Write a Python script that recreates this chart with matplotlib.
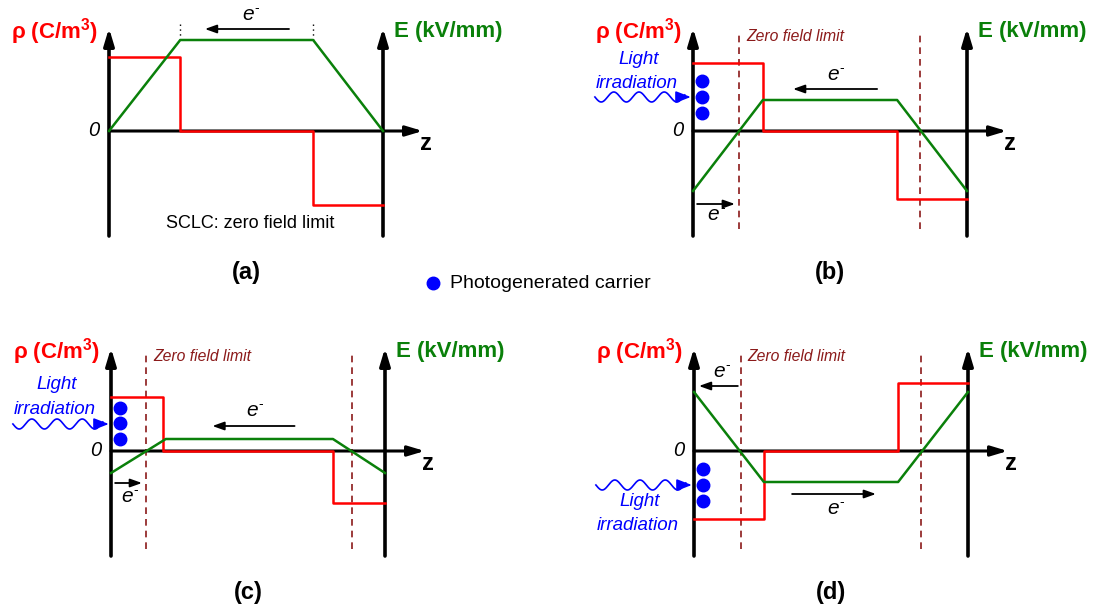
import numpy as np
import matplotlib
matplotlib.use("Agg")
import matplotlib.pyplot as plt

plt.rcParams['font.family'] = ['Liberation Sans', 'DejaVu Sans']
plt.rcParams['mathtext.fontset'] = 'custom'
plt.rcParams['mathtext.rm'] = 'Liberation Sans'
plt.rcParams['mathtext.it'] = 'Liberation Sans:italic'
plt.rcParams['mathtext.bf'] = 'Liberation Sans:bold'

RED = '#ff0000'
GREEN = '#0a800a'
BROWN = '#8b1a1a'
BLUE = '#0000ff'

# ---------------- data (z normalised 0..1 between the two vertical axes) ----
panel_names = ['(a)', '(b)', '(c)', '(d)']

a_rho_z = [0, 0.26, 0.26, 0.745, 0.745, 1]
a_rho = [0.74, 0.74, 0, 0, -0.74, -0.74]
a_E_z = [0, 0.26, 0.745, 1]
a_E = [0, 0.91, 0.91, 0]

b_rho_z = [0, 0.255, 0.255, 0.745, 0.745, 1]
b_rho = [0.68, 0.68, 0, 0, -0.68, -0.68]
b_E_z = [0, 0.255, 0.745, 1]
b_E = [-0.60, 0.31, 0.31, -0.60]
b_zero_z = [0.168, 0.828]
b_dots = [0.50, 0.34, 0.18]

c_rho_z = [0, 0.19, 0.19, 0.81, 0.81, 1]
c_rho = [0.54, 0.54, 0, 0, -0.52, -0.52]
c_E_z = [0, 0.20, 0.81, 1]
c_E = [-0.22, 0.12, 0.12, -0.22]
c_zero_z = [0.128, 0.88]
c_dots = [0.43, 0.28, 0.12]

d_rho_z = [0, 0.255, 0.255, 0.745, 0.745, 1]
d_rho = [-0.68, -0.68, 0, 0, 0.68, 0.68]
d_E_z = [0, 0.255, 0.745, 1]
d_E = [0.59, -0.31, -0.31, 0.59]
d_zero_z = [0.17, 0.83]
d_dots = [-0.18, -0.34, -0.50]

# ---------------- figure ----------------
W, H = 1111, 610
fig = plt.figure(figsize=(W / 100, H / 100), dpi=100)
XS, YS = 274.0, 100.0  # pixels per data unit


def make_ax(px0, px1, py0, py1, L, Y0):
    ax = fig.add_axes([px0 / W, 1 - py1 / H, (px1 - px0) / W, (py1 - py0) / H])
    ax.set_xlim((px0 - L) / XS, (px1 - L) / XS)
    ax.set_ylim((Y0 - py1) / YS, (Y0 - py0) / YS)
    ax.axis('off')
    return ax


def arrow(ax, x0, y0, x1, y1, lw=1.3, color='k', hl=0.7, hw=0.25):
    ax.annotate('', xy=(x1, y1), xytext=(x0, y0),
                arrowprops=dict(arrowstyle=f'-|>,head_length={hl},head_width={hw}',
                                lw=lw, color=color, shrinkA=0, shrinkB=0),
                annotation_clip=False)


def frame(ax, name):
    kw = dict(lw=2.6, color='k', hl=1.0, hw=0.3)
    arrow(ax, 0, -1.05, 0, 1.03, **kw)
    arrow(ax, 1, -1.05, 1, 1.03, **kw)
    arrow(ax, 0, 0, 1.145, 0, lw=2.2, color='k', hl=1.0, hw=0.3)
    ax.text(-0.198, 0.99, r'ρ (C/m$^{\mathbf{3}}$)', color=RED, fontsize=16,
            fontweight='bold', ha='center', va='center')
    ax.text(1.237, 0.99, 'E (kV/mm)', color=GREEN, fontsize=16, fontweight='bold',
            ha='center', va='center')
    ax.text(-0.055, 0.0, '0', fontsize=14.5, style='italic', ha='center', va='center')
    ax.text(1.155, -0.12, 'z', fontsize=17, fontweight='bold', ha='center', va='center')
    ax.text(0.5, -1.42, name, fontsize=17, fontweight='bold', ha='center', va='center')


def curves(ax, rz, r, ez, e):
    ax.plot(rz, r, color=RED, lw=1.8, clip_on=False, zorder=3)
    ax.plot(ez, e, color=GREEN, lw=1.8, clip_on=False, zorder=4)


def zero_lines(ax, zs):
    for z in zs:
        ax.plot([z, z], [-0.98, 0.98], color=BROWN, lw=1.2, ls=(0, (4, 3)), zorder=2)
    ax.text(zs[0] + 0.025, 0.945, 'Zero field limit', color=BROWN, fontsize=11.3,
            style='italic', ha='left', va='center')


def electron(ax, x, y):
    ax.text(x, y, 'e', fontsize=15, style='italic', ha='center', va='center')
    ax.annotate('-', xy=(x, y), xytext=(6.5, 5), textcoords='offset points',
                fontsize=10, ha='center', va='center', annotation_clip=False)


def light(ax, wave_y, dots, text_y):
    zz = np.linspace(-0.358, -0.03, 200)
    ax.plot(zz, wave_y + 0.05 * np.sin((zz - zz[0]) / 0.092 * 2 * np.pi + np.pi),
            color=BLUE, lw=1.2, clip_on=False)
    arrow(ax, -0.035, wave_y, -0.008, wave_y, lw=1.2, color=BLUE, hl=0.9, hw=0.35)
    ax.plot([0.033] * len(dots), dots, 'o', color=BLUE, ms=9, clip_on=False, zorder=5)
    ax.text(-0.20, text_y[0], 'Light', color=BLUE, fontsize=13.5, style='italic',
            ha='center', va='center')
    ax.text(-0.205, text_y[1], 'irradiation', color=BLUE, fontsize=13.5, style='italic',
            ha='center', va='center')


# ---- (a)
ax = make_ax(0, 555, 0, 305, 109, 131)
frame(ax, panel_names[0])
for z in [0.26, 0.745]:
    ax.plot([z, z], [0.91, 1.10], color='k', lw=1.0, ls=(0, (1, 2.5)))
curves(ax, a_rho_z, a_rho, a_E_z, a_E)
arrow(ax, 0.657, 1.02, 0.35, 1.02)
electron(ax, 0.507, 1.16)
ax.text(0.515, -0.92, 'SCLC: zero field limit', fontsize=13, ha='center', va='center')
ax.plot([1.182], [-1.52], 'o', color=BLUE, ms=9, clip_on=False)
ax.text(1.243, -1.52, 'Photogenerated carrier', fontsize=14, ha='left', va='center')

# ---- (b)
ax = make_ax(555, 1111, 0, 305, 693, 131)
frame(ax, panel_names[1])
zero_lines(ax, b_zero_z)
curves(ax, b_rho_z, b_rho, b_E_z, b_E)
light(ax, 0.34, b_dots, (0.72, 0.48))
arrow(ax, 0.672, 0.42, 0.365, 0.42)
electron(ax, 0.51, 0.56)
arrow(ax, 0.015, -0.73, 0.153, -0.73)
electron(ax, 0.075, -0.84)

# ---- (c)
ax = make_ax(0, 555, 305, 610, 111, 451)
frame(ax, panel_names[2])
zero_lines(ax, c_zero_z)
curves(ax, c_rho_z, c_rho, c_E_z, c_E)
light(ax, 0.27, c_dots, (0.66, 0.42))
arrow(ax, 0.67, 0.25, 0.37, 0.25)
electron(ax, 0.515, 0.40)
arrow(ax, 0.015, -0.32, 0.113, -0.32)
electron(ax, 0.057, -0.46)

# ---- (d)
ax = make_ax(555, 1111, 305, 610, 694, 451)
frame(ax, panel_names[3])
zero_lines(ax, d_zero_z)
curves(ax, d_rho_z, d_rho, d_E_z, d_E)
light(ax, -0.34, d_dots, (-0.51, -0.74))
arrow(ax, 0.16, 0.65, 0.018, 0.65)
electron(ax, 0.09, 0.79)
arrow(ax, 0.358, -0.43, 0.664, -0.43)
electron(ax, 0.507, -0.58)

fig.savefig('out.png', dpi=100)
